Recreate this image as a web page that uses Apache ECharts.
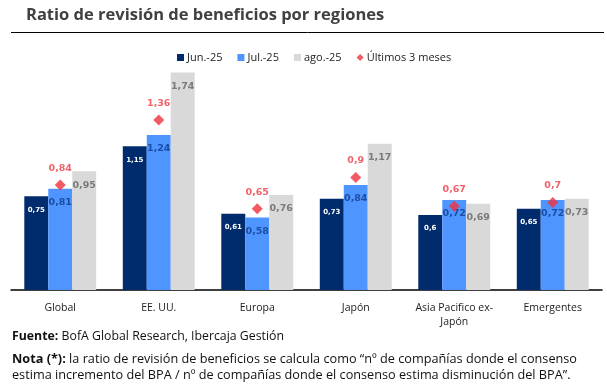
<!DOCTYPE html>
<html><head><meta charset="utf-8">
<script src="https://cdn.jsdelivr.net/npm/echarts@6/dist/echarts.min.js"></script>
<style>html,body{margin:0;padding:0;background:#fff}#c{width:607px;height:390px}</style>
</head><body><div id="c"></div>
<script>
const categories = ['Global','EE. UU.','Europa','Japón','Asia Pacifico ex-\nJapón','Emergentes'];
const jun25 = [0.75,1.15,0.61,0.73,0.6,0.65];
const jul25 = [0.81,1.24,0.58,0.84,0.72,0.72];
const ago25 = [0.95,1.74,0.76,1.17,0.69,0.73];
const ultimos3 = [0.84,1.36,0.65,0.9,0.67,0.7];
const seriesNames = ['Jun.-25','Jul.-25','ago.-25','Últimos 3 meses'];

const fmt = p => String(p.value).replace('.', ',');
const lblFont = 'DejaVu Sans';
const chart = echarts.init(document.getElementById('c'), null, {renderer:'canvas'});
chart.setOption({
  animation:false,
  backgroundColor:'#fff',
  title:{text:'Ratio de revisión de beneficios por regiones',left:21,top:2,
    textStyle:{fontFamily:'Open Sans',fontWeight:'bold',fontSize:16.5,color:'#404040'}},
  legend:{top:47,left:172,itemWidth:7,itemHeight:7,itemGap:15,
    textStyle:{fontFamily:'Open Sans',fontSize:11,color:'#222',padding:[0,0,0,-2]},
    data:[{name:seriesNames[0],icon:'rect'},{name:seriesNames[1],icon:'rect'},{name:seriesNames[2],icon:'rect'},{name:seriesNames[3],icon:'diamond'}]},
  grid:{left:11,right:5,top:40,bottom:100},
  xAxis:{type:'category',data:categories,
    axisLine:{lineStyle:{color:'#000',width:1.5}},axisTick:{show:false},
    axisLabel:{fontFamily:'Open Sans',fontSize:10.5,color:'#222',margin:11,lineHeight:14,interval:0}},
  yAxis:{type:'value',min:0,max:2,show:false,splitLine:{show:false}},
  graphic:[
    {type:'line',shape:{x1:11,y1:32.5,x2:604,y2:32.5},style:{stroke:'#000',lineWidth:1}},
    {type:'text',left:12,top:330,style:{rich:{b:{fontFamily:'Open Sans',fontWeight:'bold',fontSize:12.3,fill:'#111'},n:{fontFamily:'Open Sans',fontSize:12.3,fill:'#111'}},
      text:'{b|Fuente:} {n|BofA Global Research, Ibercaja Gestión}'}},
    {type:'text',left:12,top:352,style:{lineHeight:15.5,rich:{b:{fontFamily:'Open Sans',fontWeight:'bold',fontSize:12.7,fill:'#111',lineHeight:15.5},n:{fontFamily:'Open Sans',fontSize:12.7,fill:'#111',lineHeight:15.5}},
      text:'{b|Nota (*):} {n|la ratio de revisión de beneficios se calcula como “nº de compañías donde el consenso}\n{n|estima incremento del BPA / nº de compañías donde el consenso estima disminución del BPA”.}'}}
  ],
  series:[
    {name:seriesNames[0],type:'bar',data:jun25,barGap:'0%',barCategoryGap:'27%',itemStyle:{color:'#002b6c'},
      label:{show:true,position:'insideTop',distance:10,formatter:fmt,color:'#fff',fontFamily:lblFont,fontWeight:'bold',fontSize:7}},
    {name:seriesNames[1],type:'bar',data:jul25,itemStyle:{color:'#4f95ff'},
      label:{show:true,position:'insideTop',distance:9,formatter:fmt,color:'#1a4ea3',fontFamily:lblFont,fontWeight:'bold',fontSize:9.5}},
    {name:seriesNames[2],type:'bar',data:ago25,itemStyle:{color:'#d9d9d9'},
      label:{show:true,position:'insideTop',distance:9,formatter:fmt,color:'#7a7a7a',fontFamily:lblFont,fontWeight:'bold',fontSize:9.5}},
    {name:seriesNames[3],type:'scatter',data:ultimos3,symbol:'diamond',symbolSize:11,z:5,itemStyle:{color:'#f0323c'},
      label:{show:true,position:'top',distance:6,formatter:fmt,color:'#ee3a43',fontFamily:lblFont,fontWeight:'bold',fontSize:9.5}}
  ]
});
</script></body></html>
